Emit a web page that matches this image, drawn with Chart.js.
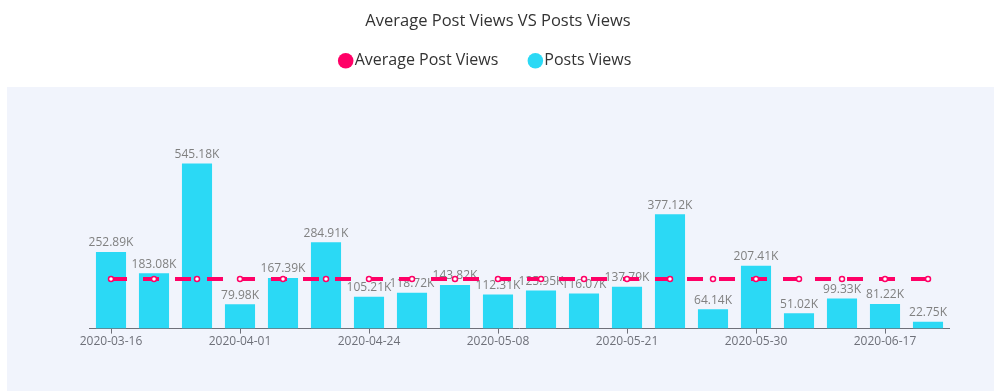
<!DOCTYPE html>
<html>
<head>
<meta charset="utf-8">
<script src="https://cdn.jsdelivr.net/npm/chart.js@4.4.1/dist/chart.umd.min.js"></script>
<style>
  html, body { margin: 0; padding: 0; background: #fff; }
  #wrap { width: 994px; height: 391px; }
</style>
</head>
<body>
<div id="wrap"><canvas id="chart"></canvas></div>
<script>
// === Data ===
const dates = [
    "2020-03-16", "2020-03-20", "2020-03-26", "2020-04-01", "2020-04-08",
    "2020-04-16", "2020-04-24", "2020-04-29", "2020-05-04", "2020-05-08",
    "2020-05-12", "2020-05-17", "2020-05-21", "2020-05-24", "2020-05-27",
    "2020-05-30", "2020-06-05", "2020-06-11", "2020-06-17", "2020-06-22"
];
const postViews = [
    252890, 183080, 545180, 79980, 167390, 284910, 105210, 118720, 143820, 112310,
    125950, 116070, 137790, 377120, 64140, 207410, 51020, 99330, 81220, 22750
];
const averageViews = [
    163810, 163810, 163810, 163810, 163810, 163810, 163810, 163810, 163810, 163810,
    163810, 163810, 163810, 163810, 163810, 163810, 163810, 163810, 163810, 163810
];

// === Styling ===
const chartProps = {
    fontFamily: "'Open Sans', Lato, sans-serif",
    barColor: "#2bd9f5",
    avgColor: "#ff0066",
    textColor: "#333333",
    labelColor: "#808080",
    axisColor: "#6e7079",
    panelColor: "#f1f4fc"
};

const formatK = v => (v / 1000).toFixed(2) + "K";

// light panel behind the plot
const panelPlugin = {
    id: "panel",
    beforeDraw(chart) {
        const ctx = chart.ctx;
        ctx.save();
        ctx.fillStyle = chartProps.panelColor;
        ctx.fillRect(7, 87, chart.width - 7, chart.height - 87);
        ctx.restore();
    }
};

// value labels above the bars, drawn under the dashed line
const barLabelPlugin = {
    id: "barLabels",
    afterDatasetDraw(chart, args) {
        if (args.index !== 1) return;
        const ctx = chart.ctx;
        ctx.save();
        ctx.font = "12px " + chartProps.fontFamily;
        ctx.fillStyle = chartProps.labelColor;
        ctx.textAlign = "center";
        ctx.textBaseline = "bottom";
        args.meta.data.forEach((bar, i) => {
            ctx.fillText(formatK(postViews[i]), bar.x, bar.y - 3);
        });
        ctx.restore();
    }
};

// extra gap under the legend, legend nudged a bit left
const legendGapPlugin = {
    id: "legendGap",
    beforeInit(chart) {
        const legend = chart.legend;
        const fit = legend.fit;
        legend.fit = function () {
            fit.call(this);
            this.height += 68;
        };
        const draw = legend.draw;
        legend.draw = function () {
            chart.ctx.save();
            chart.ctx.translate(-10, 0);
            draw.call(this);
            chart.ctx.restore();
        };
    }
};

Chart.defaults.font.family = chartProps.fontFamily;

new Chart(document.getElementById("chart"), {
    data: {
        labels: dates,
        datasets: [
            {
                type: "line",
                label: "Average Post Views",
                data: averageViews,
                borderColor: chartProps.avgColor,
                backgroundColor: chartProps.avgColor,
                borderWidth: 4,
                borderDash: [16, 16],
                pointRadius: 2.5,
                pointBackgroundColor: "#ffffff",
                pointBorderColor: chartProps.avgColor,
                pointBorderWidth: 1.5,
                fill: false
            },
            {
                type: "bar",
                label: "Posts Views",
                data: postViews,
                backgroundColor: chartProps.barColor,
                borderWidth: 0,
                categoryPercentage: 0.7,
                barPercentage: 1
            }
        ]
    },
    options: {
        responsive: true,
        maintainAspectRatio: false,
        animation: false,
        layout: {
            padding: { left: 46.5, right: 44.5, top: 0, bottom: 41 }
        },
        scales: {
            x: {
                grid: {
                    display: true,
                    offset: false,
                    drawOnChartArea: false,
                    drawTicks: true,
                    tickLength: 5,
                    color: chartProps.axisColor
                },
                border: { display: true, color: chartProps.axisColor, width: 1 },
                ticks: {
                    autoSkip: false,
                    maxRotation: 0,
                    padding: 1,
                    color: chartProps.axisColor,
                    font: { size: 12 },
                    callback: function (value, index) {
                        return index % 3 === 0 ? this.getLabelForValue(value) : null;
                    }
                }
            },
            y: {
                display: true,
                min: 0,
                max: 600000,
                ticks: { display: false },
                grid: { display: false },
                border: { display: false },
                afterFit: axis => { axis.width = 43; }
            }
        },
        plugins: {
            title: {
                display: true,
                text: "Average Post Views VS Posts Views",
                color: chartProps.textColor,
                font: { size: 16.5, weight: "normal" },
                padding: { top: 11, bottom: -14 }
            },
            legend: {
                display: true,
                labels: {
                    usePointStyle: true,
                    pointStyle: "circle",
                    boxHeight: 11,
                    boxWidth: 2,
                    padding: 36,
                    color: chartProps.textColor,
                    font: { size: 16 },
                    generateLabels(chart) {
                        const items = Chart.defaults.plugins.legend.labels.generateLabels(chart);
                        items.forEach((item, i) => {
                            const c = i === 0 ? chartProps.avgColor : chartProps.barColor;
                            item.fillStyle = c;
                            item.strokeStyle = c;
                            item.lineWidth = 0;
                            item.lineDash = [];
                            item.pointStyle = "circle";
                        });
                        return items;
                    }
                }
            },
            tooltip: { enabled: false }
        }
    },
    plugins: [panelPlugin, barLabelPlugin, legendGapPlugin]
});
</script>
</body>
</html>
